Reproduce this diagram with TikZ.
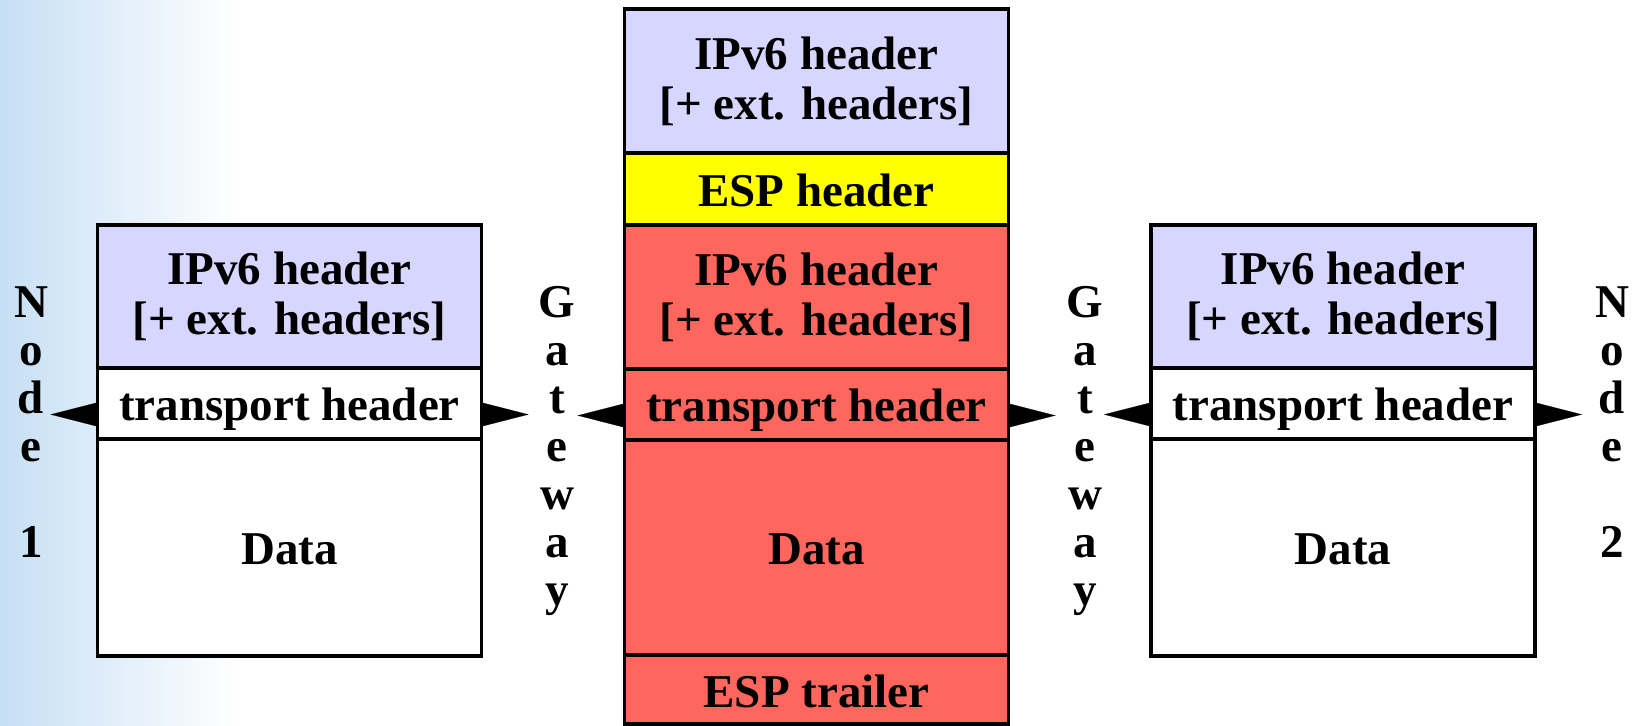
\documentclass[tikz,border=0pt]{standalone}
\usepackage{fontspec}
\setmainfont{Liberation Serif}
\usetikzlibrary{positioning,calc,arrows.meta}
\definecolor{lav}{RGB}{214,214,255}
\definecolor{esp}{RGB}{255,255,0}
\definecolor{enc}{RGB}{255,102,94}
\definecolor{sky}{RGB}{198,223,244}
\tikzset{ cell/.style = { draw
                        , fill          = white
                        , line width    = 1.75pt
                        , minimum width = 192pt
                        , inner sep     = 0pt
                        , outer sep     = 0pt
                        , font = \bfseries\fontsize{23.5}{24}\selectfont
                        },
           fld/.style = { cell
                        , text height = 21pt
                        , text depth  = 3.5pt
                        },
           hdr/.style = { cell
                        , align          = center
                        , minimum height = 72pt
                        , fill           = lav
                        , font = \bfseries\fontsize{23.5}{25}\selectfont
                        },
            vl/.style = { align     = center
                        , inner sep = 0pt
                        , anchor    = north
                        , font = \bfseries\fontsize{23.5}{24}\selectfont
                        },
         wedge/.style = { -{Triangle[length=23.5pt, width=12pt]}
                        , line width = 0.1pt
                        }
          }

\begin{document}
\begin{tikzpicture}[x=0.5pt, y=-0.5pt]
      \useasboundingbox (0,0) rectangle (1638,726);
      \shade[left color=sky, right color=white] (0,0) rectangle (240,726);
      % node 1
      \node[hdr, minimum height=71.5pt] (h1) at (289.5,296.5) {IPv6 header\\{}[+ ext. headers]};
      \node[fld, below=0pt of h1, minimum height=35.5pt]  (t1) {transport header};
      \node[fld, below=0pt of t1, minimum height=108.5pt] (d1) {Data};
      % tunnel
      \node[hdr] (h2) at (816.5,81) {IPv6 header\\{}[+ ext. headers]};
      \node[fld, below=0pt of h2, fill=esp, minimum height=36pt]    (esp) {ESP header};
      \node[hdr, below=0pt of esp, fill=enc]                        (h3)  {IPv6 header\\{}[+ ext. headers]};
      \node[fld, below=0pt of h3, fill=enc, minimum height=35.5pt]  (t2)  {transport header};
      \node[fld, below=0pt of t2, fill=enc, minimum height=107.5pt] (d2)  {Data};
      \node[fld, below=0pt of d2, fill=enc, minimum height=34.5pt]  (trl) {ESP trailer};
      % node 2
      \node[hdr, minimum height=71.5pt] (h4) at (1343,296.5) {IPv6 header\\{}[+ ext. headers]};
      \node[fld, below=0pt of h4, minimum height=35.5pt]  (t3) {transport header};
      \node[fld, below=0pt of t3, minimum height=108.5pt] (d3) {Data};
      % labels
      \node[vl] (node1) at (31,286)   {N\\o\\d\\e\\~\\1};
      \node[vl] (gw1)   at (557,286)  {G\\a\\t\\e\\w\\a\\y};
      \node[vl] (gw2)   at (1085,286) {G\\a\\t\\e\\w\\a\\y};
      \node[vl] (node2) at (1612,286) {N\\o\\d\\e\\~\\2};
      % wedges
      \coordinate (a1) at ($(t1.west)+(-47,11)$);
      \coordinate (a2) at ($(t1.east)+( 47,11)$);
      \coordinate (a3) at ($(t2.west)+(-47,11)$);
      \coordinate (a4) at ($(t2.east)+( 47,11)$);
      \coordinate (a5) at ($(t3.west)+(-47,11)$);
      \coordinate (a6) at ($(t3.east)+( 47,11)$);
      \draw[wedge] ($(t1.west)+(0,11)$) -- (a1);
      \draw[wedge] ($(t1.east)+(0,11)$) -- (a2);
      \draw[wedge] ($(t2.west)+(0,11)$) -- (a3);
      \draw[wedge] ($(t2.east)+(0,11)$) -- (a4);
      \draw[wedge] ($(t3.west)+(0,11)$) -- (a5);
      \draw[wedge] ($(t3.east)+(0,11)$) -- (a6);
\end{tikzpicture}
\end{document}
